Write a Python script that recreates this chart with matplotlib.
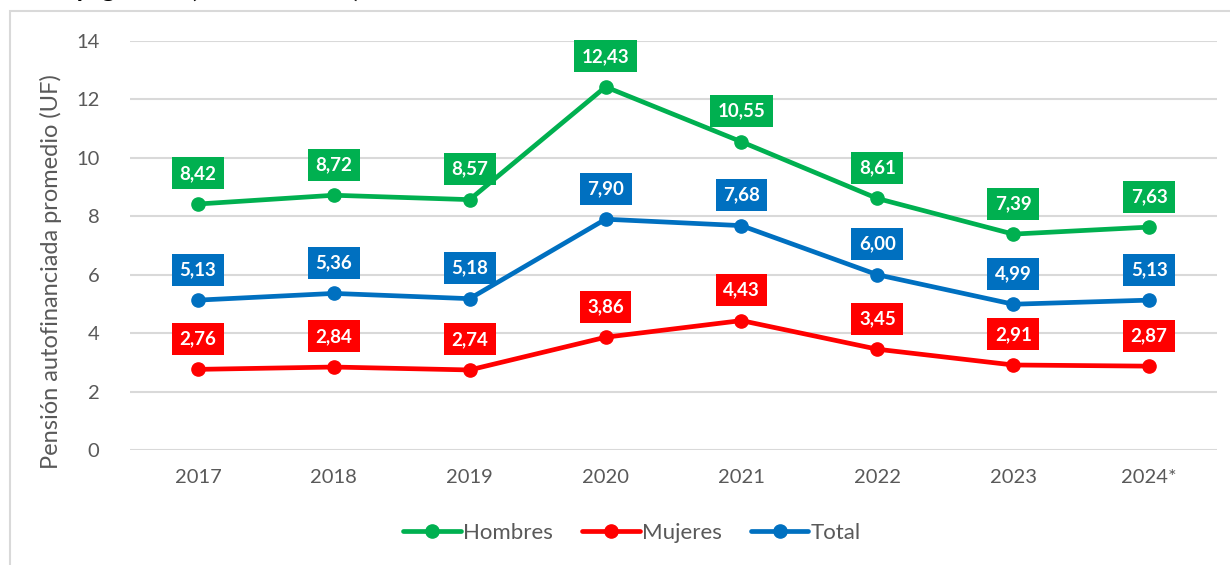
import matplotlib.pyplot as plt
from matplotlib.patches import Rectangle

plt.rcParams['font.family'] = ['Lato', 'DejaVu Sans']

years = ['2017', '2018', '2019', '2020', '2021', '2022', '2023', '2024*']
hombres = [8.42, 8.72, 8.57, 12.43, 10.55, 8.61, 7.39, 7.63]
mujeres = [2.76, 2.84, 2.74, 3.86, 4.43, 3.45, 2.91, 2.87]
total = [5.13, 5.36, 5.18, 7.90, 7.68, 6.00, 4.99, 5.13]

series = [('Hombres', hombres, '#00B050'),
          ('Mujeres', mujeres, '#FF0000'),
          ('Total', total, '#0070C0')]

fig = plt.figure(figsize=(12.3, 5.65), dpi=100)
W, H = 1230, 565

# cut-off title at the very top and the chart frame
fig.text(8 / W, 1 + 3 / H, 'Total y  género (2017 - 2024*)', fontsize=19,
         fontweight='bold', ha='left', va='baseline', color='black')
fig.patches.append(Rectangle((10 / W, -0.1), 1.2, 1.1 - 11 / H, transform=fig.transFigure,
                             fill=False, edgecolor='#d9d9d9', linewidth=1.5))

ax = fig.add_axes([130 / W, 1 - 450 / H, 1087 / W, 409 / H])
x = list(range(len(years)))

for name, vals, col in series:
    ax.plot(x, vals, color=col, linewidth=3.4, marker='o', markersize=9.5,
            label=name, zorder=3, solid_capstyle='round')
    for xi, v in zip(x, vals):
        ax.annotate(f'{v:.2f}'.replace('.', ','), (xi, v), xytext=(0, 22),
                    textcoords='offset points', ha='center', va='center',
                    color='white', fontsize=13.5, fontweight='bold', zorder=5,
                    bbox=dict(boxstyle='square,pad=0.4', fc=col, ec='none'))

ax.set_xlim(-0.5, 7.5)
ax.set_ylim(0, 14)
ax.set_yticks(range(0, 15, 2))
ax.set_xticks(x)
ax.set_xticklabels(years)
ax.grid(axis='y', color='#d9d9d9', linewidth=1.5)
ax.set_axisbelow(True)
for s in ax.spines.values():
    s.set_visible(False)
ax.tick_params(length=0, labelsize=14.5, colors='#595959', pad=14)
ax.tick_params(axis='y', pad=22)
ax.set_ylabel('Pensión autofinanciada promedio (UF)', fontsize=17, color='#595959')
ax.yaxis.set_label_coords(-68 / 1087, (450 - 272) / 409)

fig.legend(loc='center', bbox_to_anchor=(632 / W, 1 - 533 / H), ncol=3, frameon=False,
           fontsize=16, handlelength=2.6, handletextpad=0.1, columnspacing=1.3,
           labelcolor='#595959')

fig.savefig('out.png', dpi=100)
